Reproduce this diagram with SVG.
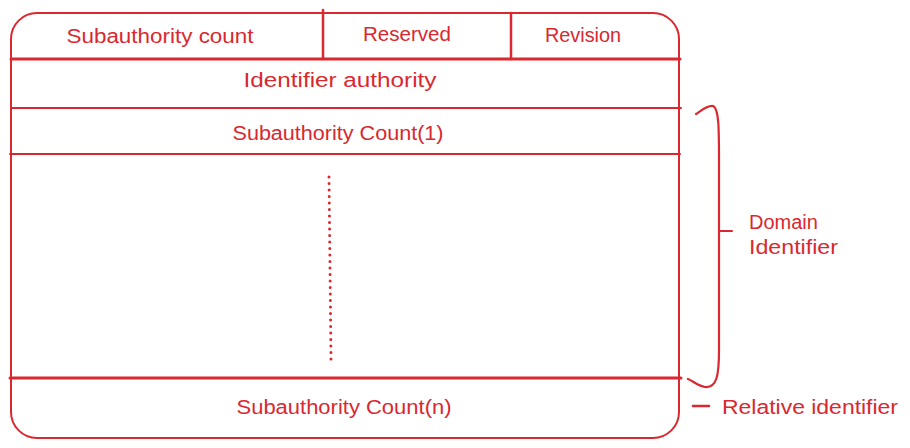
<svg xmlns="http://www.w3.org/2000/svg" width="910" height="448" viewBox="0 0 910 448">
<style>
.s{fill:none;stroke:#d9282f;stroke-width:2;stroke-linecap:round;stroke-linejoin:round}
.t{font-family:"Liberation Sans","Noto Sans",sans-serif;font-size:20px;fill:#d9282f}
.c{text-anchor:middle}
</style>
<rect width="910" height="448" fill="#fff"/>
<g id="frame">
<rect class="s" x="11" y="13" width="668" height="425" rx="26" ry="26"/>
</g>
<g id="row-header">
<line class="s" x1="323" y1="10" x2="323" y2="59" style="stroke-width:2.5"/>
<line class="s" x1="511" y1="13" x2="511" y2="59" style="stroke-width:2.5"/>
<text class="t c" x="160" y="43" textLength="187" lengthAdjust="spacingAndGlyphs">Subauthority count</text>
<text class="t c" x="407" y="41" textLength="88" lengthAdjust="spacingAndGlyphs">Reserved</text>
<text class="t c" x="583" y="42" textLength="76" lengthAdjust="spacingAndGlyphs">Revision</text>
</g>
<g id="row-identifier-authority">
<line class="s" x1="11" y1="59" x2="680" y2="59" style="stroke-width:3"/>
<text class="t c" x="340" y="87" textLength="193" lengthAdjust="spacingAndGlyphs">Identifier authority</text>
</g>
<g id="row-subauthority-1">
<line class="s" x1="11" y1="108" x2="681" y2="108"/>
<text class="t c" x="338" y="140" textLength="211" lengthAdjust="spacingAndGlyphs">Subauthority Count(1)</text>
</g>
<g id="row-middle">
<line class="s" x1="10" y1="154" x2="680" y2="154"/>
<line class="s" x1="329" y1="177" x2="331" y2="359" style="stroke-width:3;stroke-dasharray:0 6.5"/>
</g>
<g id="row-subauthority-n">
<line class="s" x1="10" y1="378" x2="681" y2="378" style="stroke-width:3"/>
<text class="t c" x="344" y="414" textLength="215" lengthAdjust="spacingAndGlyphs">Subauthority Count(n)</text>
</g>
<g id="connectors">
<path class="s" d="M696 114 C702 110 708 105 713 106 C719 108 719 130 719 160 L719 350 C719 375 717 388 705 387 C698 386 693 381 688 379" style="stroke-width:2.2"/>
<line class="s" x1="720" y1="231" x2="732" y2="231"/>
<line class="s" x1="693" y1="406" x2="709" y2="406" style="stroke-width:2.6"/>
</g>
<g id="label-domain">
<text class="t" x="749" y="229">Domain</text>
<text class="t" x="749" y="254" textLength="89" lengthAdjust="spacingAndGlyphs">Identifier</text>
</g>
<g id="label-relative">
<text class="t" x="722" y="414" textLength="176" lengthAdjust="spacingAndGlyphs">Relative identifier</text>
</g>
</svg>
